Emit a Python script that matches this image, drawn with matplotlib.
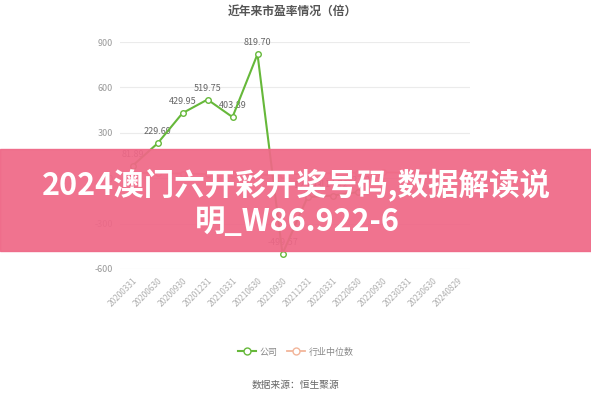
import numpy as np
import matplotlib
matplotlib.use("Agg")
import matplotlib.pyplot as plt
from matplotlib.lines import Line2D
from matplotlib.patches import Rectangle

plt.rcParams['font.family'] = ['Noto Sans CJK SC', 'DejaVu Sans']

dates = ["20200331", "20200630", "20200930", "20201231", "20210331", "20210630",
         "20210930", "20211231", "20220331", "20220630", "20220930", "20230331",
         "20230630", "20240829"]
company = [81.89, 229.69, 429.95, 519.75, 403.89, 819.70, -499.57,
           -125.43, -114.72, -92.30, np.nan, np.nan, np.nan, np.nan]
industry = [36.2, 33.5, 30.8, 27.4, 25.1, 22.6, 24.3, 29.7, 33.2, 36.5, 38.1,
            36.8, 34.9, 33.6]
yticks = [-600, -300, 0, 300, 600, 900]

green = "#66B83A"
peach = "#F2B59A"

fig = plt.figure(figsize=(5.91, 4.0), dpi=100)
ax = fig.add_axes([120 / 591, 131 / 400, 350 / 591, 227 / 400])

x = np.arange(len(dates))
ax.plot(x, industry, color=peach, lw=1.3, marker="o", ms=4,
        mfc="white", mec=peach, mew=1, zorder=3)
ax.plot(x, company, color=green, lw=1.5, marker="o", ms=4,
        mfc="white", mec=green, mew=1, zorder=4)

for xi, v in zip(x, company):
    if np.isnan(v):
        continue
    ax.annotate(f"{v:.2f}", (xi, v), xytext=(0, 5), textcoords="offset points",
                ha="center", va="bottom", fontsize=6.5, color="#666666")

ax.set_xlim(-0.5, len(dates) - 0.5)
ax.set_ylim(-600, 900)
ax.set_yticks(yticks)
ax.set_yticklabels([str(t) for t in yticks], fontsize=6.5, color="#999999")
ax.set_xticks(x)
ax.set_xticklabels(dates, rotation=45, ha="right", rotation_mode="anchor",
                   fontsize=6, color="#b0b0b0")
ax.tick_params(length=0, pad=5)
ax.grid(axis="y", color="#ebebeb", lw=0.8)
for s in ax.spines.values():
    s.set_visible(False)
ax.set_axisbelow(True)

fig.text(292 / 591, 1 - 11 / 400, "近年来市盈率情况（倍）", ha="center", va="center",
         fontsize=8.5, fontweight="bold", color="#555555")

handles = [Line2D([0], [0], color=green, lw=1.5, marker="o", ms=5, mfc="white", mec=green),
           Line2D([0], [0], color=peach, lw=1.3, marker="o", ms=5, mfc="white", mec=peach)]
fig.legend(handles, ["公司", "行业中位数"], loc="center", ncol=2,
           bbox_to_anchor=(296 / 591, 1 - 352 / 400), frameon=False, fontsize=6.5,
           labelcolor="#888888", handlelength=2, columnspacing=1.0, handletextpad=0.4)

fig.text(295 / 591, 1 - 385 / 400, "数据来源：恒生聚源", ha="center", va="center",
         fontsize=7, color="#666666")

# overlay banner
fig.patches.append(Rectangle((0, (400 - 251) / 400), 1, 102 / 400, transform=fig.transFigure,
                             color="#EF6887", alpha=0.93, zorder=10))
fig.text(296 / 591, 1 - 186 / 400, "2024澳门六开彩开奖号码,数据解读说", ha="center", va="center",
         fontsize=22, fontweight="bold", color="white", zorder=11)
fig.text(297 / 591, 1 - 222 / 400, "明_W86.922-6", ha="center", va="center",
         fontsize=22, fontweight="bold", color="white", zorder=11)

fig.savefig("out.png", dpi=100)
